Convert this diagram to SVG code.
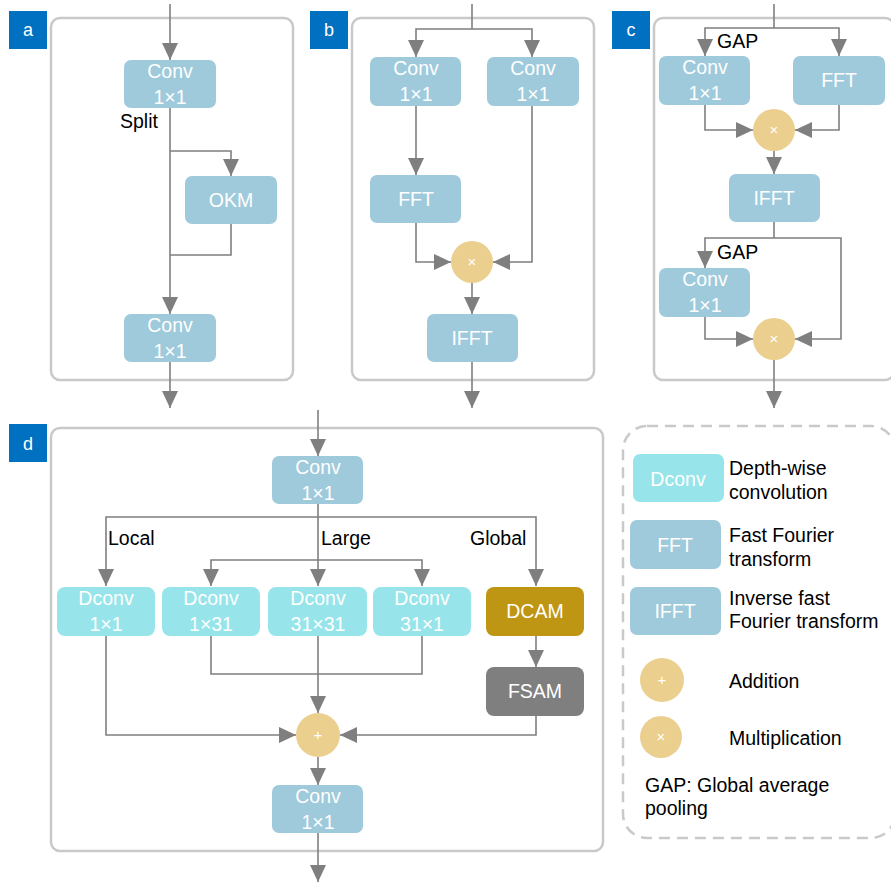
<svg xmlns="http://www.w3.org/2000/svg" width="891" height="883" viewBox="0 0 891 883">
<defs>
<marker id="ah" markerUnits="userSpaceOnUse" markerWidth="17" markerHeight="16" refX="17" refY="8" orient="auto">
<path d="M0,0 L17,8 L0,16 z" fill="#7f7f7f"/>
</marker>
</defs>
<style>
text{font-family:"Liberation Sans",Arial,sans-serif;}
.frame{fill:#ffffff;stroke:#c9c9c9;stroke-width:2.5;}
.dash{fill:#ffffff;stroke:#c9c9c9;stroke-width:2.5;stroke-dasharray:11 7;}
.tag{fill:#0070c0;}
.tagt{fill:#ffffff;font-size:18px;text-anchor:middle;}
.b{fill:#9ecadb;}
.c{fill:#97e5ea;}
.dcam{fill:#bf9514;}
.fsam{fill:#7f7f7f;}
.op{fill:#ebcf8e;}
.bt{fill:#ffffff;font-size:19.5px;text-anchor:middle;}
.ot{fill:#ffffff;font-size:15px;text-anchor:middle;}
.lb{fill:#000000;font-size:19.5px;}
.ln{fill:none;stroke:#7f7f7f;stroke-width:1.6;}
.ar{fill:none;stroke:#7f7f7f;stroke-width:1.6;marker-end:url(#ah);}
</style>
<rect width="891" height="883" fill="#ffffff"/>

<!-- frames -->
<g id="frames">
<rect class="frame" x="51" y="18" width="242" height="362" rx="9"/>
<rect class="frame" x="352" y="18" width="242" height="362" rx="9"/>
<rect class="frame" x="654" y="18" width="240" height="362" rx="9"/>
<rect class="frame" x="51" y="428" width="552" height="423" rx="9"/>
<rect class="dash" x="623" y="426" width="272" height="412" rx="24"/>
</g>

<g id="tags">
<rect class="tag" x="9" y="11" width="38" height="38"/><text class="tagt" x="28" y="36">a</text>
<rect class="tag" x="310" y="11" width="38" height="38"/><text class="tagt" x="329" y="36">b</text>
<rect class="tag" x="612" y="11" width="38" height="38"/><text class="tagt" x="631" y="36">c</text>
<rect class="tag" x="9" y="424" width="38" height="38"/><text class="tagt" x="28" y="450">d</text>
</g>

<!-- connectors -->
<g id="connectors">
<!-- a -->
<path class="ar" d="M170,4 V60"/>
<path class="ar" d="M170,108 V314"/>
<path class="ar" d="M170,151 H231 V176"/>
<path class="ln" d="M231,224 V255 H170"/>
<path class="ar" d="M170,362 V408"/>
<!-- b -->
<path class="ln" d="M472,4 V29"/>
<path class="ar" d="M472,29 H416 V57"/>
<path class="ar" d="M472,29 H532 V57"/>
<path class="ar" d="M416,106 V175"/>
<path class="ar" d="M416,223 V262 H451"/>
<path class="ar" d="M532,106 V262 H493"/>
<path class="ar" d="M472,283 V314"/>
<path class="ar" d="M472,362 V408"/>
<!-- c -->
<path class="ln" d="M774,4 V28"/>
<path class="ar" d="M774,28 H705 V56"/>
<path class="ar" d="M774,28 H839 V56"/>
<path class="ar" d="M705,105 V130 H753"/>
<path class="ar" d="M839,105 V130 H795"/>
<path class="ar" d="M774,151 V174"/>
<path class="ln" d="M774,222 V238"/>
<path class="ar" d="M774,238 H705 V268"/>
<path class="ar" d="M774,238 H841 V339 H795"/>
<path class="ar" d="M705,317 V339 H753"/>
<path class="ar" d="M774,360 V408"/>
<!-- d -->
<path class="ar" d="M318,410 V456"/>
<path class="ar" d="M318,504 V586"/>
<path class="ar" d="M318,517 H106 V586"/>
<path class="ar" d="M318,517 H536 V586"/>
<path class="ar" d="M318,560 H211 V586"/>
<path class="ar" d="M318,560 H422 V586"/>
<path class="ar" d="M536,635 V667"/>
<path class="ln" d="M211,635 V674 H422 V635"/>
<path class="ar" d="M318,635 V713"/>
<path class="ar" d="M106,635 V735 H296"/>
<path class="ar" d="M536,716 V735 H340"/>
<path class="ar" d="M318,757 V785"/>
<path class="ar" d="M318,833 V882"/>
</g>

<!-- panel a -->
<g id="a-conv1"><rect class="b" x="124" y="60" width="92" height="48" rx="7"/><text class="bt" x="170" y="78">Conv</text><text class="bt" x="170" y="104">1×1</text></g>
<g id="a-split"><text class="lb" x="120" y="128">Split</text></g>
<g id="a-okm"><rect class="b" x="185" y="176" width="92" height="48" rx="7"/><text class="bt" x="231" y="207">OKM</text></g>
<g id="a-conv2"><rect class="b" x="124" y="314" width="92" height="48" rx="7"/><text class="bt" x="170" y="332">Conv</text><text class="bt" x="170" y="358">1×1</text></g>

<!-- panel b -->
<g id="b-conv1"><rect class="b" x="370" y="57" width="91" height="49" rx="7"/><text class="bt" x="416" y="75">Conv</text><text class="bt" x="416" y="101">1×1</text></g>
<g id="b-conv2"><rect class="b" x="487" y="57" width="92" height="49" rx="7"/><text class="bt" x="533" y="75">Conv</text><text class="bt" x="533" y="101">1×1</text></g>
<g id="b-fft"><rect class="b" x="370" y="175" width="91" height="48" rx="7"/><text class="bt" x="416" y="206">FFT</text></g>
<g id="b-mul"><circle class="op" cx="472" cy="262" r="21"/><text class="ot" x="472" y="267">×</text></g>
<g id="b-ifft"><rect class="b" x="427" y="314" width="91" height="48" rx="7"/><text class="bt" x="472" y="345">IFFT</text></g>

<!-- panel c -->
<g id="c-gap1"><text class="lb" x="717" y="48">GAP</text></g>
<g id="c-conv1"><rect class="b" x="659" y="56" width="91" height="49" rx="7"/><text class="bt" x="705" y="74">Conv</text><text class="bt" x="705" y="100">1×1</text></g>
<g id="c-fft"><rect class="b" x="793" y="56" width="92" height="49" rx="7"/><text class="bt" x="839" y="87">FFT</text></g>
<g id="c-mul1"><circle class="op" cx="774" cy="130" r="21"/><text class="ot" x="774" y="135">×</text></g>
<g id="c-ifft"><rect class="b" x="729" y="174" width="91" height="48" rx="7"/><text class="bt" x="774" y="205">IFFT</text></g>
<g id="c-gap2"><text class="lb" x="717" y="259">GAP</text></g>
<g id="c-conv2"><rect class="b" x="659" y="268" width="91" height="49" rx="7"/><text class="bt" x="705" y="286">Conv</text><text class="bt" x="705" y="312">1×1</text></g>
<g id="c-mul2"><circle class="op" cx="774" cy="339" r="21"/><text class="ot" x="774" y="344">×</text></g>

<!-- panel d -->
<g id="d-conv1"><rect class="b" x="272" y="456" width="91" height="48" rx="7"/><text class="bt" x="318" y="474">Conv</text><text class="bt" x="318" y="500">1×1</text></g>
<g id="d-local"><text class="lb" x="108" y="545">Local</text></g>
<g id="d-large"><text class="lb" x="321" y="545">Large</text></g>
<g id="d-global"><text class="lb" x="470" y="545">Global</text></g>
<g id="d-dconv1"><rect class="c" x="57" y="587" width="98" height="49" rx="8"/><text class="bt" x="106" y="605">Dconv</text><text class="bt" x="106" y="631">1×1</text></g>
<g id="d-dconv2"><rect class="c" x="162" y="587" width="98" height="49" rx="8"/><text class="bt" x="211" y="605">Dconv</text><text class="bt" x="211" y="631">1×31</text></g>
<g id="d-dconv3"><rect class="c" x="268" y="587" width="99" height="49" rx="8"/><text class="bt" x="318" y="605">Dconv</text><text class="bt" x="318" y="631">31×31</text></g>
<g id="d-dconv4"><rect class="c" x="373" y="587" width="98" height="49" rx="8"/><text class="bt" x="422" y="605">Dconv</text><text class="bt" x="422" y="631">31×1</text></g>
<g id="d-dcam"><rect class="dcam" x="486" y="587" width="98" height="49" rx="8"/><text class="bt" x="535" y="618">DCAM</text></g>
<g id="d-fsam"><rect class="fsam" x="486" y="667" width="98" height="49" rx="8"/><text class="bt" x="535" y="698">FSAM</text></g>
<g id="d-add"><circle class="op" cx="318" cy="735" r="22"/><text class="ot" x="318" y="740">+</text></g>
<g id="d-conv2"><rect class="b" x="272" y="785" width="91" height="48" rx="7"/><text class="bt" x="318" y="803">Conv</text><text class="bt" x="318" y="829">1×1</text></g>

<!-- legend -->
<g id="legend-dconv"><rect class="c" x="633" y="454" width="91" height="48" rx="7"/><text class="bt" x="678" y="486">Dconv</text><text class="lb" x="729" y="475">Depth-wise</text><text class="lb" x="729" y="499">convolution</text></g>
<g id="legend-fft"><rect class="b" x="630" y="520" width="91" height="49" rx="7"/><text class="bt" x="675" y="552">FFT</text><text class="lb" x="729" y="542">Fast Fourier</text><text class="lb" x="729" y="566">transform</text></g>
<g id="legend-ifft"><rect class="b" x="630" y="587" width="91" height="48" rx="7"/><text class="bt" x="675" y="618">IFFT</text><text class="lb" x="729" y="605">Inverse fast</text><text class="lb" x="729" y="628">Fourier transform</text></g>
<g id="legend-add"><circle class="op" cx="662" cy="680" r="22"/><text class="ot" x="662" y="685">+</text><text class="lb" x="729" y="688">Addition</text></g>
<g id="legend-mul"><circle class="op" cx="661" cy="737" r="21"/><text class="ot" x="661" y="742">×</text><text class="lb" x="729" y="745">Multiplication</text></g>
<g id="legend-gap"><text class="lb" x="645" y="792">GAP: Global average</text><text class="lb" x="645" y="815">pooling</text></g>
</svg>
